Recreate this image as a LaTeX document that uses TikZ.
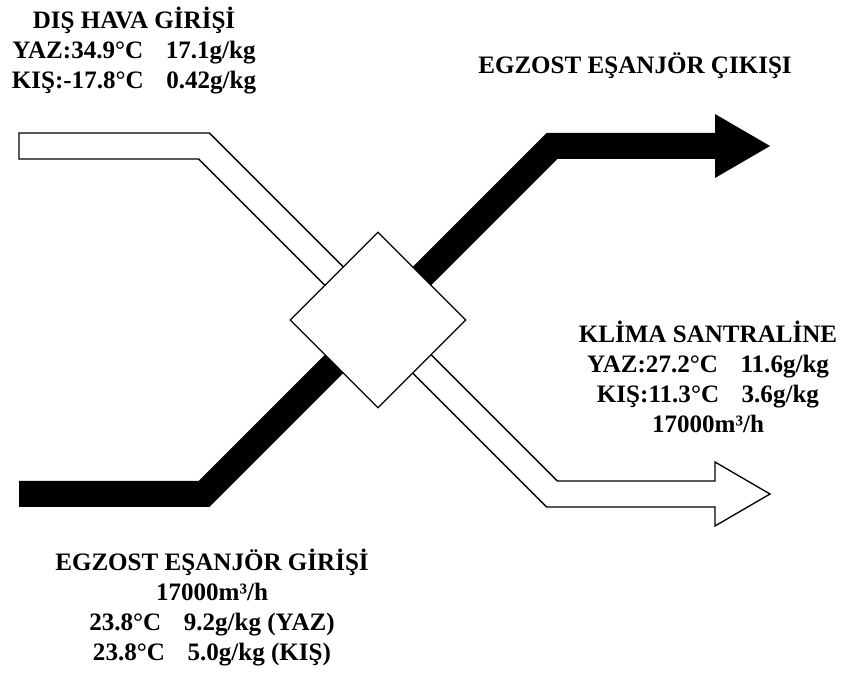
\documentclass[tikz,border=0pt]{standalone}
\usepackage{fontspec}
\setmainfont{Liberation Serif}
\usepackage{xcolor}
\usetikzlibrary{shapes.geometric}
\definecolor{ink}{HTML}{000000}
\definecolor{paper}{HTML}{FFFFFF}
\newcommand{\valgap}{\hspace{0.9em}}

\begin{document}
\begin{tikzpicture}[x=0.75pt,y=-0.75pt, every node/.style={font=\bfseries\fontsize{18.8}{22.5}\selectfont,text=ink}, lbl/.style={align=center}, hx/.style={diamond,draw=ink,fill=paper,line width=1pt,minimum width=132pt,minimum height=132pt,inner sep=0pt}, fresh/.style={draw=ink,fill=paper,line width=1pt,line join=miter}, exhaust/.style={fill=ink}]
\useasboundingbox (0,0) rectangle (844,673);
% outdoor air, white strip
\draw[fresh] (19,133)--(209.4,133)--(557.4,481)--(715,481)--(715,462)--(770,494)--(715,526)--(715,507)--(546.6,507)--(198.6,159)--(19,159)--cycle;
% exhaust air, black strip
\fill[exhaust] (19,481)--(198.6,481)--(546.6,133)--(715,133)--(715,114)--(770,146)--(715,178)--(715,159)--(557.4,159)--(209.4,507)--(19,507)--cycle;
\node[hx] (hx) at (378,320) {};
\node[lbl] (dis) at (134,51) {DIŞ HAVA GİRİŞİ\\YAZ:34.9°C\valgap 17.1g/kg\\KIŞ:-17.8°C\valgap 0.42g/kg};
\node[lbl] (cik) at (635,66) {EGZOST EŞANJÖR ÇIKIŞI};
\node[lbl] (klm) at (708,377) {KLİMA SANTRALİNE\\YAZ:27.2°C\valgap 11.6g/kg\\KIŞ:11.3°C\valgap 3.6g/kg\\17000m³/h};
\node[lbl] (gir) at (212,608) {EGZOST EŞANJÖR GİRİŞİ\\17000m³/h\\23.8°C\valgap 9.2g/kg (YAZ)\\23.8°C\valgap 5.0g/kg (KIŞ)};
\end{tikzpicture}
\end{document}
